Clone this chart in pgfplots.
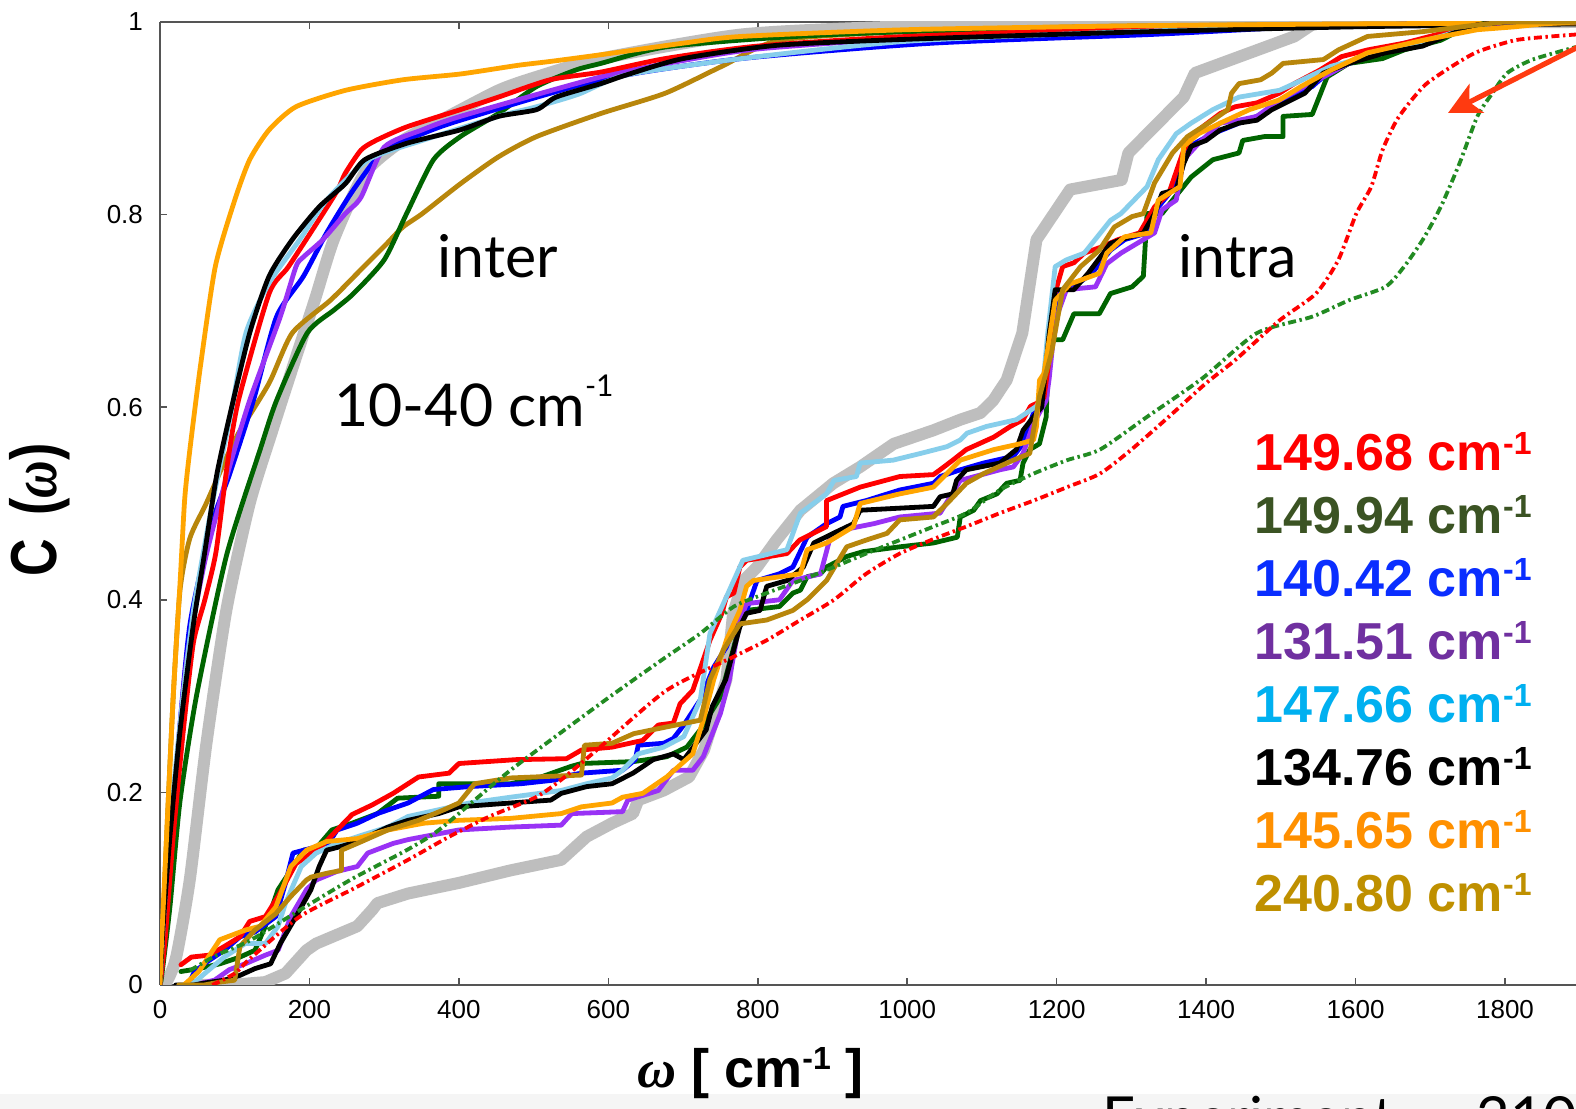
\documentclass[border=0pt]{standalone}
\usepackage{fontspec}
\setmainfont{Liberation Sans}
\newfontfamily\gill{Lato}
\newfontfamily\grk{Liberation Serif}
\usepackage{pgfplots}
\pgfplotsset{compat=1.18}
\usetikzlibrary{arrows.meta}

\definecolor{cgray}{HTML}{BEBEBE}
\definecolor{cred}{HTML}{FF0000}
\definecolor{cgreen}{HTML}{006400}
\definecolor{cblue}{HTML}{0000FF}
\definecolor{cpurple}{HTML}{9932F5}
\definecolor{csky}{HTML}{87CEEB}
\definecolor{corange}{HTML}{FFA500}
\definecolor{cgold}{HTML}{B8860B}
\definecolor{cdgreen}{HTML}{228B22}
\definecolor{tgreen}{HTML}{3B5323}
\definecolor{tblue}{HTML}{0A2EFF}
\definecolor{tpurple}{HTML}{7030A0}
\definecolor{tsky}{HTML}{00B0F0}
\definecolor{torange}{HTML}{FF9000}
\definecolor{tgold}{HTML}{BF9000}
\definecolor{carrow}{HTML}{FF3A10}
\definecolor{axisgray}{HTML}{555555}
\definecolor{band}{HTML}{F5F5F5}

% legend entry: value in bold Arial-like face with a raised -1
\newcommand{\leg}[1]{\bfseries\fontsize{26}{26}\selectfont #1 cm\raisebox{8pt}{\fontsize{16}{16}\selectfont -1}}

\begin{document}
\begin{tikzpicture}
\useasboundingbox (0,0) rectangle (788pt,554.5pt);
\clip (0,0) rectangle (788pt,554.5pt);
\fill[white] (0,0) rectangle (788pt,554.5pt);
\fill[band] (0,0) rectangle (788pt,7.5pt);

\begin{axis}[
  at={(80pt,62pt)}, anchor=south west,
  scale only axis, width=708pt, height=481.5pt,
  xmin=0, xmax=1895, ymin=0, ymax=1,
  axis x line=box, axis y line*=left,
  axis line style={draw=axisgray, line width=0.8pt},
  tick align=inside, major tick length=3.5pt,
  tick style={draw=axisgray, line width=0.8pt},
  xtick={0,200,400,600,800,1000,1200,1400,1600,1800},
  ytick={0,0.2,0.4,0.6,0.8,1},
  /pgf/number format/assume math mode=true,
  /pgf/number format/1000 sep={},
  ticklabel style={font=\fontsize{13}{13}\selectfont},
  yticklabel style={xshift=-5pt},
  xticklabel style={yshift=-4pt},
  every axis plot/.append style={line join=round, line cap=round},
]

% experiment (thick grey)
\addplot[cgray, line width=6pt, smooth, tension=0.4] coordinates {
(0,0)(10,0.005)(22,0.03)(40,0.11)(62,0.25)(89,0.39)(120,0.50)(150,0.575)(177,0.64)(207,0.711)
(233,0.775)(274,0.843)(325,0.877)(376,0.898)(453,0.929)(504,0.943)(590,0.962)(778,0.987)
(983,0.995)(1300,0.999)(1895,1)};
\addplot[cgray, line width=6pt] coordinates {
(45,0.0)(93,0.0)(141,0.003)(168,0.012)(196,0.036)(209,0.043)(264,0.061)(284,0.078)(291,0.085)
(332,0.095)(400,0.106)(469,0.119)(537,0.130)(571,0.154)(605,0.168)(633,0.178)(640,0.192)
(674,0.202)(708,0.216)(728,0.244)(758,0.317)(767,0.386)(781,0.420)(799,0.434)(825,0.462)
(857,0.493)(901,0.521)(937,0.538)(982,0.562)(1035,0.576)(1071,0.587)(1098,0.594)(1115,0.607)
(1133,0.628)(1154,0.677)(1173,0.774)(1218,0.826)(1287,0.836)(1296,0.864)(1370,0.922)
(1385,0.947)(1518,0.985)(1547,1.0)(1895,1)};

% inter
\addplot[cgold, line width=2.4pt, smooth, tension=0.4] coordinates {
(0,0)(2.2,0.027)(8.9,0.155)(17.8,0.301)(26.8,0.410)(40,0.464)(62.4,0.501)(93.7,0.556)(105,0.573)
(146,0.625)(177,0.677)(228,0.711)(264,0.739)(300,0.767)(325,0.787)(351,0.801)(402,0.832)
(453,0.860)(504,0.881)(590,0.905)(676,0.926)(752,0.954)(829,0.981)(1000,0.99)(1300,0.996)(1895,0.999)};
\addplot[cgreen, line width=2.4pt, smooth, tension=0.4] coordinates {
(0,0)(2.2,0.009)(13.4,0.082)(26.8,0.191)(49,0.301)(89,0.446)(134,0.556)(156,0.607)(197,0.677)
(233,0.701)(259,0.718)(300,0.753)(330,0.801)(366,0.857)(402,0.881)(453,0.905)(504,0.933)
(556,0.950)(590,0.957)(676,0.974)(829,0.984)(1000,0.99)(1300,0.995)(1895,0.999)};
\addplot[cblue, line width=2.4pt, smooth, tension=0.4] coordinates {
(0,0)(8.9,0.082)(22.3,0.228)(40,0.374)(70,0.48)(93,0.53)(125,0.607)(156,0.694)(192,0.736)
(223,0.781)(259,0.826)(300,0.867)(351,0.884)(402,0.898)(590,0.940)(778,0.962)(1034,0.978)
(1325,0.987)(1500,0.994)(1600,0.997)(1895,0.999)};
\addplot[cpurple, line width=2.4pt, smooth, tension=0.4] coordinates {
(0,0)(4.5,0.046)(17.8,0.191)(35.7,0.337)(60,0.44)(90,0.530)(120,0.607)(161,0.694)(182,0.746)
(192,0.756)(218,0.774)(248,0.801)(269,0.818)(300,0.870)(351,0.888)(402,0.902)(590,0.943)
(700,0.96)(800,0.972)(1000,0.983)(1300,0.992)(1600,0.997)(1895,0.999)};
\addplot[cred, line width=2.4pt, smooth, tension=0.4] coordinates {
(0,0)(6.7,0.046)(17.8,0.155)(31.2,0.264)(44.6,0.355)(60,0.40)(75,0.45)(90,0.54)(105,0.607)
(146,0.718)(172,0.746)(218,0.801)(238,0.826)(248,0.843)(269,0.867)(289,0.877)(330,0.891)
(402,0.909)(453,0.922)(522,0.940)(590,0.948)(676,0.962)(800,0.975)(1000,0.985)(1300,0.993)
(1600,0.997)(1895,0.999)};
\addplot[csky, line width=2.4pt, smooth, tension=0.4] coordinates {
(0,0)(5,0.07)(14,0.17)(28,0.28)(45,0.39)(70,0.50)(95,0.594)(115,0.677)(146,0.729)(187,0.774)
(223,0.815)(279,0.857)(351,0.877)(453,0.902)(504,0.912)(560,0.925)(624,0.945)(778,0.962)
(1000,0.98)(1300,0.99)(1600,0.996)(1895,0.999)};
\addplot[black, line width=2.4pt, smooth, tension=0.4] coordinates {
(0,0)(4.5,0.064)(13.4,0.155)(26.8,0.264)(44.6,0.374)(60,0.45)(76,0.53)(95,0.597)(120,0.677)
(146,0.736)(177,0.774)(213,0.808)(248,0.832)(274,0.857)(330,0.874)(402,0.888)(453,0.902)
(504,0.909)(530,0.922)(590,0.936)(624,0.945)(700,0.962)(829,0.976)(1034,0.983)(1325,0.990)
(1600,0.995)(1895,0.998)};
\addplot[corange, line width=2.4pt, smooth, tension=0.4] coordinates {
(0,0)(2.2,0.046)(8.9,0.155)(17.8,0.301)(26.8,0.417)(33,0.504)(40,0.556)(54,0.642)(74,0.746)
(100,0.815)(120,0.857)(146,0.888)(182,0.912)(248,0.929)(325,0.940)(402,0.946)(479,0.955)
(522,0.959)(590,0.966)(700,0.978)(778,0.985)(1000,0.992)(1300,0.996)(1600,0.998)(1895,0.999)};

% intra
\addplot[cgreen, line width=2.4pt] coordinates {
(28,0.014)(52,0.017)(80,0.022)(107,0.029)(127,0.036)(141,0.061)(158,0.099)(175,0.119)(192,0.140)
(209,0.142)(230,0.161)(257,0.168)(291,0.178)(318,0.194)(373,0.196)(373,0.209)(469,0.209)
(510,0.216)(550,0.227)(564,0.230)(634,0.232)(678,0.237)(705,0.247)(723,0.265)(750,0.299)
(768,0.351)(776,0.375)(785,0.389)(829,0.393)(847,0.407)(857,0.410)(866,0.424)(884,0.427)
(892,0.434)(919,0.445)(941,0.450)(990,0.455)(1035,0.459)(1067,0.465)(1071,0.486)(1089,0.493)
(1098,0.503)(1120,0.510)(1133,0.521)(1151,0.524)(1155,0.542)(1164,0.556)(1177,0.562)
(1186,0.590)(1188,0.640)(1190,0.670)(1208,0.670)(1223,0.697)(1257,0.697)(1272,0.718)
(1301,0.725)(1316,0.736)(1321,0.801)(1341,0.801)(1355,0.815)(1380,0.839)(1409,0.857)
(1444,0.864)(1449,0.877)(1478,0.881)(1503,0.881)(1503,0.902)(1542,0.904)(1562,0.943)
(1591,0.957)(1636,0.962)(1665,0.971)(1714,0.981)(1744,0.993)(1780,1)(1895,1)};
\addplot[cblue, line width=2.4pt] coordinates {
(42,0.007)(45,0.012)(59,0.022)(86,0.036)(107,0.050)(127,0.055)(155,0.071)(168,0.106)(178,0.137)
(202,0.142)(223,0.144)(237,0.161)(264,0.168)(291,0.178)(332,0.189)(366,0.203)(414,0.206)
(483,0.209)(530,0.213)(537,0.216)(564,0.220)(619,0.223)(636,0.234)(640,0.249)(674,0.251)
(687,0.256)(701,0.270)(723,0.296)(741,0.330)(758,0.351)(776,0.386)(785,0.389)(799,0.420)
(829,0.427)(847,0.434)(866,0.465)(892,0.479)(910,0.486)(914,0.497)(945,0.503)(990,0.514)
(1035,0.521)(1044,0.528)(1071,0.535)(1102,0.542)(1142,0.549)(1155,0.562)(1169,0.594)
(1180,0.60)(1188,0.64)(1193,0.677)(1203,0.718)(1223,0.725)(1247,0.739)(1272,0.763)
(1291,0.774)(1321,0.781)(1336,0.808)(1355,0.826)(1370,0.860)(1385,0.874)(1409,0.884)
(1444,0.895)(1468,0.902)(1498,0.916)(1542,0.933)(1567,0.950)(1616,0.964)(1665,0.975)
(1714,0.985)(1763,0.995)(1800,1)(1895,1)};
\addplot[cpurple, line width=2.4pt] coordinates {
(45,0.0)(73,0.005)(93,0.016)(114,0.022)(141,0.031)(158,0.036)(175,0.071)(196,0.099)(209,0.109)
(237,0.118)(264,0.123)(278,0.137)(312,0.147)(332,0.151)(366,0.156)(400,0.161)(469,0.164)
(537,0.166)(551,0.178)(619,0.180)(626,0.192)(667,0.202)(687,0.223)(713,0.223)(727,0.237)
(750,0.282)(762,0.317)(776,0.379)(785,0.396)(829,0.400)(847,0.420)(884,0.427)(896,0.462)
(910,0.472)(955,0.479)(990,0.486)(1044,0.490)(1071,0.524)(1124,0.535)(1142,0.538)(1155,0.552)
(1169,0.583)(1186,0.607)(1190,0.63)(1198,0.69)(1213,0.722)(1252,0.725)(1267,0.749)(1286,0.760)
(1331,0.781)(1341,0.805)(1360,0.815)(1370,0.857)(1390,0.874)(1419,0.895)(1444,0.898)
(1468,0.902)(1498,0.919)(1532,0.933)(1567,0.947)(1616,0.968)(1665,0.978)(1714,0.985)
(1763,0.995)(1800,1)(1895,1)};
\addplot[cred, line width=2.4pt] coordinates {
(28,0.021)(42,0.029)(66,0.031)(86,0.040)(107,0.050)(120,0.066)(141,0.071)(158,0.092)(182,0.126)
(216,0.144)(237,0.161)(257,0.177)(284,0.187)(312,0.199)(346,0.216)(387,0.220)(400,0.230)
(476,0.234)(544,0.235)(564,0.244)(605,0.247)(646,0.254)(667,0.270)(687,0.272)(696,0.292)
(713,0.306)(736,0.358)(752,0.386)(758,0.403)(768,0.407)(776,0.434)(785,0.441)(839,0.448)
(856,0.462)(892,0.476)(892,0.503)(937,0.517)(990,0.528)(1035,0.530)(1044,0.535)(1061,0.545)
(1079,0.556)(1116,0.569)(1138,0.580)(1155,0.587)(1165,0.601)(1173,0.604)(1183,0.61)(1190,0.65)
(1195,0.711)(1208,0.746)(1223,0.750)(1237,0.760)(1262,0.767)(1282,0.774)(1311,0.781)
(1331,0.808)(1350,0.822)(1370,0.867)(1390,0.888)(1419,0.905)(1439,0.912)(1468,0.916)
(1498,0.926)(1518,0.936)(1552,0.950)(1581,0.964)(1616,0.971)(1665,0.978)(1714,0.988)
(1763,0.997)(1800,1)(1895,1)};
\addplot[csky, line width=2.4pt] coordinates {
(40,0.0)(45,0.002)(66,0.016)(86,0.029)(114,0.043)(141,0.043)(158,0.061)(168,0.085)(189,0.123)
(209,0.137)(237,0.147)(264,0.154)(305,0.164)(332,0.175)(373,0.182)(414,0.189)(469,0.195)
(537,0.202)(571,0.209)(605,0.215)(619,0.223)(640,0.240)(674,0.247)(701,0.258)(723,0.296)
(736,0.365)(780,0.441)(839,0.452)(857,0.490)(892,0.510)(902,0.524)(932,0.528)(937,0.542)
(981,0.545)(1018,0.552)(1053,0.559)(1071,0.566)(1080,0.573)(1106,0.580)(1146,0.587)
(1173,0.601)(1180,0.61)(1188,0.677)(1198,0.746)(1213,0.753)(1237,0.760)(1272,0.794)
(1286,0.801)(1321,0.829)(1336,0.857)(1360,0.884)(1380,0.895)(1409,0.909)(1444,0.922)
(1498,0.929)(1518,0.936)(1567,0.954)(1616,0.964)(1665,0.975)(1714,0.985)(1744,0.992)
(1790,1)(1895,1)};
\addplot[black, line width=2.4pt] coordinates {
(21,0.0)(45,0.0)(59,0.002)(86,0.005)(107,0.010)(127,0.017)(148,0.022)(161,0.043)(182,0.071)
(202,0.099)(213,0.123)(223,0.140)(243,0.144)(264,0.149)(305,0.164)(332,0.171)(373,0.178)
(400,0.185)(469,0.189)(523,0.192)(537,0.199)(571,0.206)(605,0.209)(633,0.220)(660,0.234)
(687,0.240)(701,0.234)(731,0.265)(739,0.289)(757,0.317)(776,0.372)(785,0.386)(803,0.389)
(812,0.414)(839,0.420)(861,0.434)(875,0.459)(901,0.469)(928,0.479)(937,0.493)(1035,0.497)
(1044,0.507)(1061,0.510)(1066,0.524)(1079,0.535)(1124,0.542)(1146,0.556)(1155,0.576)
(1169,0.590)(1180,0.60)(1190,0.677)(1198,0.722)(1223,0.722)(1242,0.739)(1272,0.770)
(1286,0.774)(1316,0.781)(1331,0.801)(1341,0.822)(1360,0.826)(1370,0.853)(1380,0.871)
(1400,0.877)(1419,0.888)(1444,0.895)(1468,0.898)(1488,0.909)(1532,0.926)(1557,0.947)
(1591,0.957)(1640,0.968)(1690,0.975)(1729,0.988)(1763,0.997)(1800,1)(1895,1)};
\addplot[corange, line width=2.4pt] coordinates {
(32,0.0)(52,0.014)(80,0.047)(114,0.057)(134,0.061)(155,0.081)(175,0.123)(196,0.140)(223,0.149)
(264,0.152)(305,0.161)(353,0.168)(400,0.171)(469,0.173)(537,0.178)(564,0.185)(605,0.189)
(619,0.195)(646,0.199)(678,0.216)(713,0.240)(727,0.275)(741,0.317)(758,0.358)(776,0.389)
(785,0.414)(794,0.420)(857,0.427)(866,0.452)(892,0.459)(928,0.476)(937,0.500)(990,0.510)
(1035,0.517)(1053,0.531)(1071,0.545)(1116,0.556)(1151,0.562)(1169,0.566)(1173,0.580)
(1177,0.628)(1183,0.635)(1198,0.711)(1218,0.728)(1257,0.739)(1267,0.760)(1291,0.777)
(1326,0.781)(1336,0.815)(1365,0.829)(1370,0.871)(1390,0.884)(1419,0.895)(1458,0.909)
(1498,0.919)(1527,0.933)(1567,0.950)(1616,0.968)(1690,0.981)(1763,0.992)(1813,0.995)
(1850,0.998)(1895,1)};
\addplot[cgold, line width=2.4pt] coordinates {
(25,0.0)(59,0.0)(80,0.003)(100,0.005)(107,0.040)(127,0.057)(155,0.074)(175,0.092)(196,0.109)
(202,0.112)(223,0.116)(243,0.119)(243,0.140)(264,0.147)(305,0.161)(346,0.171)(380,0.182)
(400,0.189)(421,0.209)(469,0.215)(564,0.218)(568,0.249)(605,0.251)(634,0.261)(678,0.268)
(723,0.275)(736,0.317)(754,0.348)(776,0.375)(812,0.379)(847,0.389)(866,0.400)(892,0.420)
(919,0.455)(945,0.462)(973,0.469)(990,0.483)(1035,0.486)(1057,0.503)(1079,0.521)(1102,0.531)
(1142,0.545)(1164,0.552)(1169,0.576)(1177,0.611)(1193,0.656)(1208,0.722)(1232,0.746)
(1257,0.763)(1277,0.787)(1301,0.798)(1316,0.801)(1331,0.833)(1355,0.864)(1375,0.881)
(1409,0.898)(1429,0.909)(1434,0.926)(1444,0.936)(1473,0.940)(1488,0.947)(1503,0.957)
(1557,0.961)(1577,0.971)(1616,0.985)(1690,0.990)(1763,0.997)(1800,1)(1895,1)};

% dash-dotted
\addplot[cdgreen, line width=1.9pt, smooth, tension=0.4, line cap=butt,
  dash pattern=on 4pt off 1.8pt on 1.2pt off 1.8pt] coordinates {
(40,0.015)(76,0.031)(120,0.046)(196,0.082)(259,0.111)(330,0.140)(375,0.162)(469,0.223)(589,0.292)
(634,0.317)(678,0.341)(723,0.365)(768,0.393)(812,0.407)(857,0.420)(902,0.434)(945,0.448)
(990,0.462)(1035,0.476)(1079,0.490)(1124,0.514)(1169,0.531)(1214,0.545)(1258,0.556)(1321,0.590)
(1395,0.630)(1468,0.677)(1542,0.694)(1591,0.711)(1640,0.725)(1665,0.746)(1690,0.774)
(1714,0.808)(1739,0.853)(1763,0.902)(1783,0.926)(1803,0.947)(1837,0.961)(1895,0.974)};
\addplot[cred, line width=1.9pt, smooth, tension=0.4, line cap=butt,
  dash pattern=on 4pt off 1.8pt on 1.2pt off 1.8pt] coordinates {
(70,0.0)(100,0.012)(120,0.027)(187,0.071)(259,0.100)(332,0.130)(387,0.154)(441,0.175)(503,0.195)
(540,0.215)(589,0.247)(678,0.306)(768,0.341)(812,0.358)(857,0.379)(902,0.400)(945,0.427)
(990,0.448)(1035,0.463)(1079,0.476)(1124,0.490)(1169,0.503)(1214,0.517)(1258,0.531)(1300,0.556)
(1350,0.59)(1400,0.625)(1439,0.649)(1498,0.690)(1547,0.718)(1577,0.753)(1601,0.801)
(1621,0.829)(1636,0.867)(1655,0.898)(1675,0.919)(1695,0.936)(1729,0.954)(1763,0.969)
(1813,0.981)(1862,0.985)(1895,0.987)};
\end{axis}

% arrow at the top right
\draw[carrow, line width=2.6pt, -{Stealth[length=16pt, width=16pt, inset=4pt]}]
  (790pt,531.5pt) -- (724pt,498pt);

% annotations
\node[anchor=base west, inner sep=0] at (218.5pt,415.5pt)
  {\gill\fontsize{29.5}{29.5}\selectfont inter};
\node[anchor=base west, inner sep=0] at (589pt,415.5pt)
  {\gill\fontsize{29.5}{29.5}\selectfont intra};
\node[anchor=base west, inner sep=0] at (167pt,341pt)
  {\gill\fontsize{29.5}{29.5}\selectfont 10-40 cm\raisebox{15pt}{\fontsize{15}{15}\selectfont -1}};

% legend values
\node[anchor=base east, inner sep=0, text=cred]    at (766pt,319pt)   {\leg{149.68}};
\node[anchor=base east, inner sep=0, text=tgreen]  at (766pt,287.5pt) {\leg{149.94}};
\node[anchor=base east, inner sep=0, text=tblue]   at (766pt,256pt)   {\leg{140.42}};
\node[anchor=base east, inner sep=0, text=tpurple] at (766pt,224.5pt) {\leg{131.51}};
\node[anchor=base east, inner sep=0, text=tsky]    at (766pt,193pt)   {\leg{147.66}};
\node[anchor=base east, inner sep=0, text=black]   at (766pt,161.5pt) {\leg{134.76}};
\node[anchor=base east, inner sep=0, text=torange] at (766pt,130pt)   {\leg{145.65}};
\node[anchor=base east, inner sep=0, text=tgold]   at (766pt,98.5pt)  {\leg{240.80}};

% axis labels
\node[rotate=90, inner sep=0] at (20pt,299.5pt)
  {\scalebox{1}[1.25]{\bfseries\fontsize{26}{26}\selectfont C\hspace{0.45em}({\grk\bfseries\itshape ω})}};
\node[anchor=base west, inner sep=0] at (318.5pt,10.5pt)
  {\bfseries\fontsize{27}{27}\selectfont {\grk\bfseries\itshape ω} [ cm\raisebox{9pt}{\fontsize{16}{16}\selectfont -1} ]};

% slide text cut by the lower edge
\node[anchor=base west, inner sep=0] at (551pt,-15pt)
  {\gill\fontsize{29}{29}\selectfont Experiment};
\node[anchor=base west, inner sep=0] at (738pt,-15pt)
  {\gill\fontsize{29}{29}\selectfont 210};
\end{tikzpicture}
\end{document}
